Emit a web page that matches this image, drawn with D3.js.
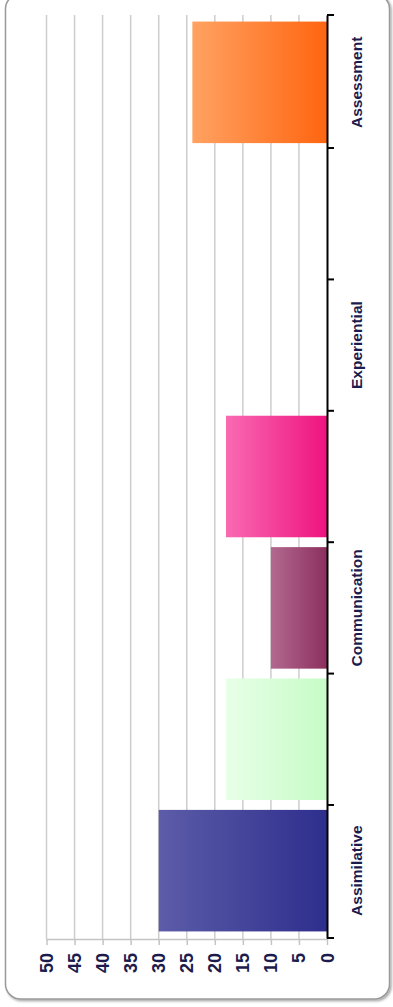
<!DOCTYPE html>
<html><head><meta charset="utf-8">
<script src="https://cdn.jsdelivr.net/npm/d3@7"></script>
<style>html,body{margin:0;padding:0;background:#fff;}svg{display:block;}</style>
</head><body>
<svg id="c" width="393" height="1007"></svg>
<script>
const categories = ["Assimilative","Finding and handling information","Communication","Productive","Experiential","Interactive/Adaptive","Assessment"];
const shownLabels = ["Assimilative","Communication","Experiential","Assessment"];
const values = [30, 18, 10, 18, 0, 0, 24];
const gradLeft  = ["#5c5ca9","#e8ffe8","#b2698f","#f96ab2","#ff0000","#ff0000","#ffa262"];
const gradRight = ["#2e2e8d","#c6fbc6","#8c2f5f","#ee137f","#ff0000","#ff0000","#ff6510"];
const valueTicks = [0,5,10,15,20,25,30,35,40,45,50];

const svg = d3.select("#c");
const defs = svg.append("defs");
const sh = defs.append("filter").attr("id","sh").attr("x","-5%").attr("y","-5%").attr("width","110%").attr("height","110%");
sh.append("feDropShadow").attr("dx",1.5).attr("dy",1.5).attr("stdDeviation",1.2).attr("flood-color","#000").attr("flood-opacity",0.35);

svg.append("rect").attr("x",5.5).attr("y",-6).attr("width",384).attr("height",1005).attr("rx",15)
  .attr("fill","#fff").attr("stroke","#9a9a9a").attr("stroke-width",1.5).attr("filter","url(#sh)");

const x = d3.scaleLinear().domain([0,50]).range([327,46.5]);
const y = d3.scaleBand().domain(categories).range([938,15]).paddingInner(0.075).paddingOuter(0.05);

categories.forEach((c,i)=>{
  const g = defs.append("linearGradient").attr("id","g"+i).attr("x1","0").attr("x2","1").attr("y1","0").attr("y2","0");
  g.append("stop").attr("offset","0").attr("stop-color",gradLeft[i]);
  g.append("stop").attr("offset","1").attr("stop-color",gradRight[i]);
});

// gridlines
svg.append("g").selectAll("line").data(valueTicks.filter(v=>v>0)).join("line")
  .attr("x1",d=>x(d)).attr("x2",d=>x(d)).attr("y1",15).attr("y2",939)
  .attr("stroke","#cdcdcd").attr("stroke-width",1.5);

// bars
svg.append("g").selectAll("rect").data(categories).join("rect")
  .attr("x",(d,i)=>x(values[i])).attr("width",(d,i)=>x(0)-x(values[i]))
  .attr("y",d=>y(d)).attr("height",y.bandwidth())
  .attr("fill",(d,i)=>"url(#g"+i+")");

const fontFam = "'Liberation Sans', Arial, sans-serif";
const txtCol = "#1b1b4d";

// value axis (bottom)
const xa = svg.append("g").attr("transform","translate(0,939)")
  .call(d3.axisBottom(x).tickValues(valueTicks).tickSize(6).tickSizeOuter(0).tickFormat(d3.format("d")));
xa.select(".domain").attr("stroke","#c4c4c4").attr("stroke-width",1.5);
xa.selectAll(".tick line").attr("stroke","#c4c4c4").attr("stroke-width",1.5);
xa.selectAll(".tick text").attr("transform","rotate(-90)").attr("x",-14).attr("y",6).attr("dy",0)
  .attr("text-anchor","end").attr("fill",txtCol).attr("font-family",fontFam)
  .attr("font-size",18).attr("font-weight","bold");

// category axis (right)
const ya = svg.append("g").attr("transform","translate(327,0)")
  .call(d3.axisRight(y).tickSize(0).tickSizeOuter(0).tickFormat(d=>shownLabels.includes(d)?d:""));
ya.select(".domain").attr("stroke","#000").attr("stroke-width",2);
ya.selectAll(".tick text").attr("transform","rotate(-90)").attr("x",0).attr("y",35).attr("dy",0)
  .attr("text-anchor","middle").attr("fill",txtCol).attr("font-family",fontFam)
  .attr("font-size",15.5).attr("font-weight","bold");

// category boundary tick marks
const bounds = [y.range()[0], y.range()[1]];
for(let i=0;i<categories.length-1;i++){
  const a = y(categories[i]), b = y(categories[i+1]);
  bounds.push((a + b + y.bandwidth())/2);
}
ya.append("g").selectAll("line").data(bounds).join("line")
  .attr("x1",0).attr("x2",7).attr("y1",d=>d).attr("y2",d=>d)
  .attr("stroke","#000").attr("stroke-width",2);
</script>
</body></html>
